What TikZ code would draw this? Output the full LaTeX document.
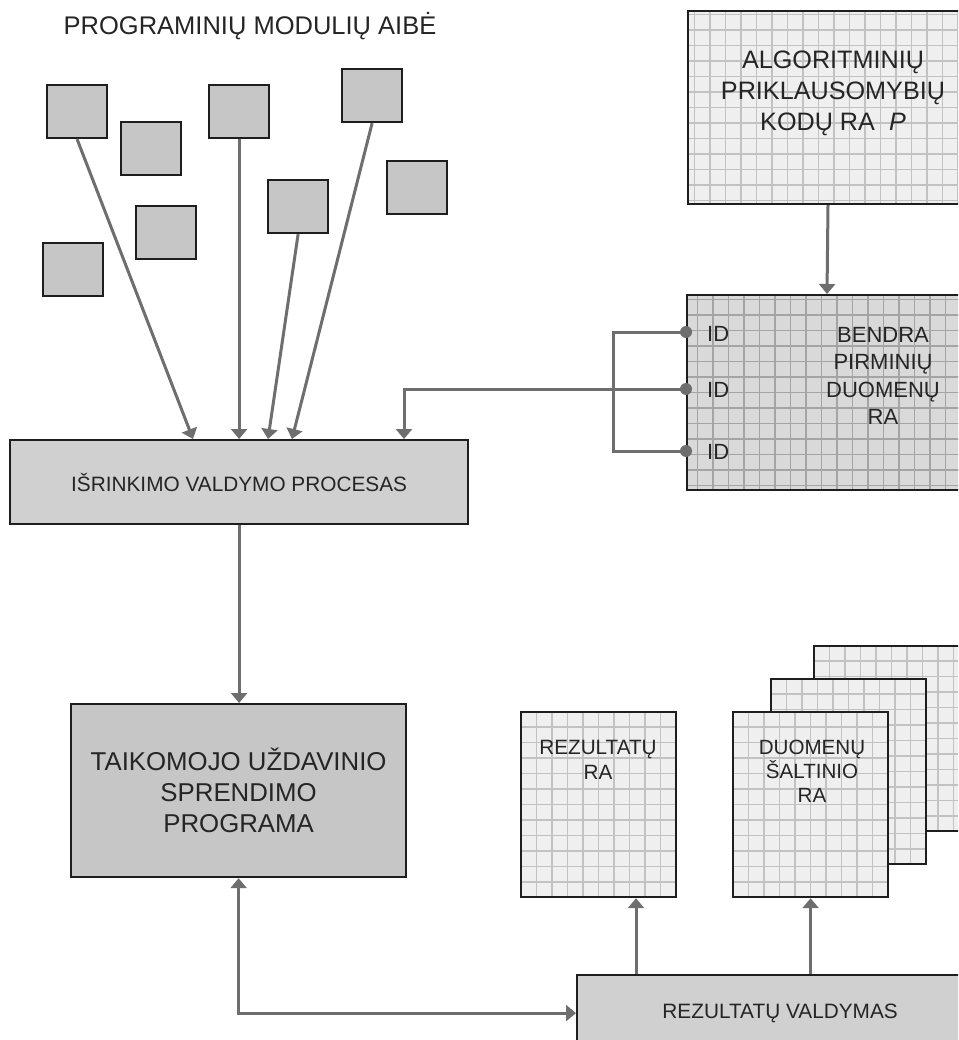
\documentclass[tikz,border=0pt]{standalone}
\usepackage{fontspec}
\setmainfont{Liberation Sans}
\usetikzlibrary{arrows.meta,calc}
\definecolor{conncol}{HTML}{6E6E6E}
\definecolor{bordercol}{HTML}{1E1E1E}
\definecolor{modfill}{HTML}{C6C6C6}
\definecolor{procfill}{HTML}{D0D0D0}
\definecolor{lightbg}{HTML}{EFEFEF}
\definecolor{lightline}{HTML}{C2C2C2}
\definecolor{darkbg}{HTML}{D9D9D9}
\definecolor{darkline}{HTML}{A4A4A4}
\definecolor{txtcol}{HTML}{252525}
\begin{document}
\begin{tikzpicture}[x=1pt,y=-1pt,
  conn/.style={draw=conncol, line width=3pt, -{Triangle[width=16pt,length=10pt]}},
  biconn/.style={draw=conncol, line width=3pt, {Triangle[width=16pt,length=10pt]}-{Triangle[width=16pt,length=10pt]}},
  plainline/.style={draw=conncol, line width=3pt},
  dotnode/.style={circle, fill=conncol, inner sep=0pt, minimum size=12pt},
  basebox/.style={draw=bordercol, line width=2.2pt, inner sep=0pt, anchor=north west, text=txtcol, align=center},
  modbox/.style={basebox, fill=modfill, minimum width=60pt, minimum height=53pt},
  procbox/.style={basebox, fill=procfill},
  progbox/.style={basebox, fill=modfill},
  gridpic/.style n args={2}{path picture={
      \fill[#1] (path picture bounding box.south west) rectangle (path picture bounding box.north east);
      \draw[#2, line width=1.3pt, step=15.5pt] (path picture bounding box.south west) grid (path picture bounding box.north east);}},
  lightgrid/.style={basebox, gridpic={lightbg}{lightline}, minimum width=155pt, minimum height=185pt},
  darkgrid/.style={basebox, gridpic={darkbg}{darkline}},
  lbl/.style={text=txtcol, align=center, inner sep=0pt}
]
\useasboundingbox (0,0) rectangle (958,1040);
\clip (0,0) rectangle (958,1040);
\fill[white] (0,0) rectangle (958,1040);

% title
\node[lbl, font=\fontsize{25.5}{30}\selectfont] (title) at (250,26) {PROGRAMINIŲ MODULIŲ AIBĖ};

% program modules
\node[modbox] (m1) at (46,84) {};
\node[modbox] (m2) at (120,121) {};
\node[modbox] (m3) at (208,84) {};
\node[modbox] (m4) at (341,68) {};
\node[modbox] (m5) at (386,160) {};
\node[modbox] (m6) at (267,179) {};
\node[modbox] (m7) at (135,205) {};
\node[modbox] (m8) at (42,242) {};

% selection process
\node[procbox, minimum width=458pt, minimum height=84pt, font=\fontsize{20.8}{25}\selectfont] (sel) at (9,439) {IŠRINKIMO VALDYMO PROCESAS};

% application program
\node[progbox, minimum width=335pt, minimum height=173pt, font=\fontsize{25.8}{31}\selectfont] (taik) at (70,703) {TAIKOMOJO UŽDAVINIO\\SPRENDIMO\\PROGRAMA};

% algorithmic dependencies
\node[basebox, gridpic={lightbg}{lightline}, minimum width=292pt, minimum height=193pt] (algo) at (687,10) {};
\node[lbl, font=\fontsize{25.2}{31}\selectfont] (algoT) at (833,93) {ALGORITMINIŲ\\PRIKLAUSOMYBIŲ\\KODŲ RA \ \textit{P}};

% common primary data
\node[darkgrid, minimum width=300pt, minimum height=195pt] (bendra) at (686,294) {};
\node[lbl, font=\fontsize{22}{27.5}\selectfont] (bendraT) at (883,376) {BENDRA\\PIRMINIŲ\\DUOMENŲ\\RA};
\node[lbl, anchor=west, font=\fontsize{22}{26}\selectfont] (id1) at (707,334) {ID};
\node[lbl, anchor=west, font=\fontsize{22}{26}\selectfont] (id2) at (707,390) {ID};
\node[lbl, anchor=west, font=\fontsize{22}{26}\selectfont] (id3) at (707,452) {ID};

% results RA
\node[lightgrid] (rezra) at (520,711) {};
\node[lbl, font=\fontsize{20.7}{25}\selectfont] (rezraT) at (598,760) {REZULTATŲ\\RA};

% data source stack
\node[lightgrid] (ds3) at (813,645) {};
\node[lightgrid] (ds2) at (770,678) {};
\node[lightgrid] (ds1) at (732,711) {};
\node[lbl, font=\fontsize{20.6}{24}\selectfont] (ds1T) at (812,771) {DUOMENŲ\\ŠALTINIO\\RA};

% results management
\node[procbox, minimum width=406pt, minimum height=76pt, font=\fontsize{20.8}{25}\selectfont] (rv) at (576,974) {REZULTATŲ VALDYMAS};

% connectors
\draw[conn] (m1.south) -- ($(sel.north west)+(184,0)$);
\draw[conn] (m3.south) -- (m3.south |- sel.north);
\draw[conn] (m6.south) -- ($(sel.north west)+(259,0)$);
\draw[conn] (m4.south) -- ($(sel.north west)+(283,0)$);

\coordinate (d1) at (686,332);
\coordinate (d2) at (686,389);
\coordinate (d3) at (686,451);
\draw[plainline] (d1) -- ++(-73,0) |- (d3);
\draw[conn] (d2) -| ($(sel.north west)+(395,0)$);
\node[dotnode] (dot1) at (d1) {};
\node[dotnode] (dot2) at (d2) {};
\node[dotnode] (dot3) at (d3) {};

\draw[conn] ($(algo.south west)+(141,0)$) -- ($(bendra.north west)+(141,0)$);
\draw[conn] (sel.south) -- (sel.south |- taik.north);
\draw[biconn] (taik.south) |- (rv.west);
\draw[conn] ($(rv.north west)+(60,0)$) -- ($(rezra.south west)+(116,0)$);
\draw[conn] (rv.north -| ds1.south) -- (ds1.south);
\end{tikzpicture}
\end{document}
